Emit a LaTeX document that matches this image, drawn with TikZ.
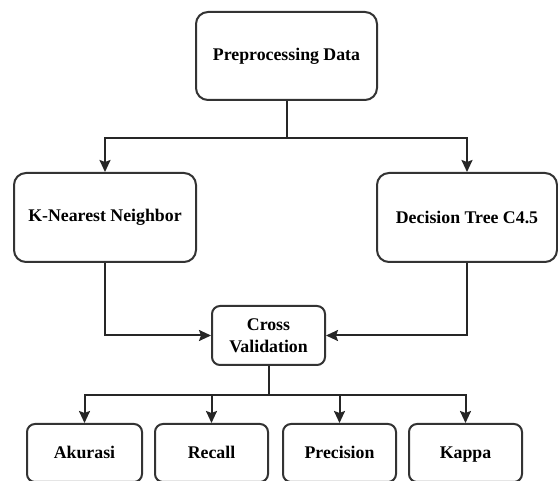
\documentclass[tikz,border=0pt]{standalone}
\usepackage{fontspec}
\setmainfont{Liberation Serif}
\usetikzlibrary{arrows.meta}
\begin{document}
\begin{tikzpicture}[x=1pt,y=-1pt,
  box/.style={draw=black!80, line width=2pt, rounded corners=12pt, fill=white,
    inner sep=0pt, align=center, font=\fontsize{17.8}{22}\selectfont\bfseries},
  smallbox/.style={box, rounded corners=8pt},
  rowbox/.style={smallbox, minimum width=113pt, minimum height=58pt, text height=13pt, text depth=1pt},
  arr/.style={draw=black!85, line width=2pt, -{Stealth[length=12pt,width=11pt,inset=2pt]}},
  ln/.style={draw=black!85, line width=2pt}]
\clip (0,0) rectangle (558,481);
\fill[white] (0,0) rectangle (558,481);
\node[box, minimum width=181pt, minimum height=88pt] (pre) at (286.5,56) {Preprocessing Data};
\node[box, minimum width=182pt, minimum height=89pt] (knn) at (105,217.5) {K-Nearest Neighbor};
\node[box, minimum width=180pt, minimum height=89pt] (dt) at (467,217.5) {Decision Tree C4.5};
\node[smallbox, minimum width=113pt, minimum height=59pt] (cv) at (268.5,335.5) {Cross\\Validation};
\node[rowbox, minimum width=115pt] (ak) at (84.5,453) {Akurasi};
\node[rowbox] (re) at (211.5,453) {Recall};
\node[rowbox] (pr) at (339.5,453) {Precision};
\node[rowbox] (ka) at (465.5,453) {Kappa};
\coordinate (bus1) at ([yshift=-37pt]pre.south);
\draw[arr] (pre.south) -- (bus1) -| (knn.north);
\draw[arr] (bus1) -| (dt.north);
\draw[arr] (knn.south) |- (cv.west);
\draw[arr] (dt.south) |- (cv.east);
\coordinate (bus2) at ([yshift=-29pt]cv.south);
\draw[ln] (cv.south) -- (bus2);
\draw[arr] (bus2) -| (ak.north);
\draw[arr] (bus2) -| (re.north);
\draw[arr] (bus2) -| (pr.north);
\draw[arr] (bus2) -| (ka.north);
\end{tikzpicture}
\end{document}
